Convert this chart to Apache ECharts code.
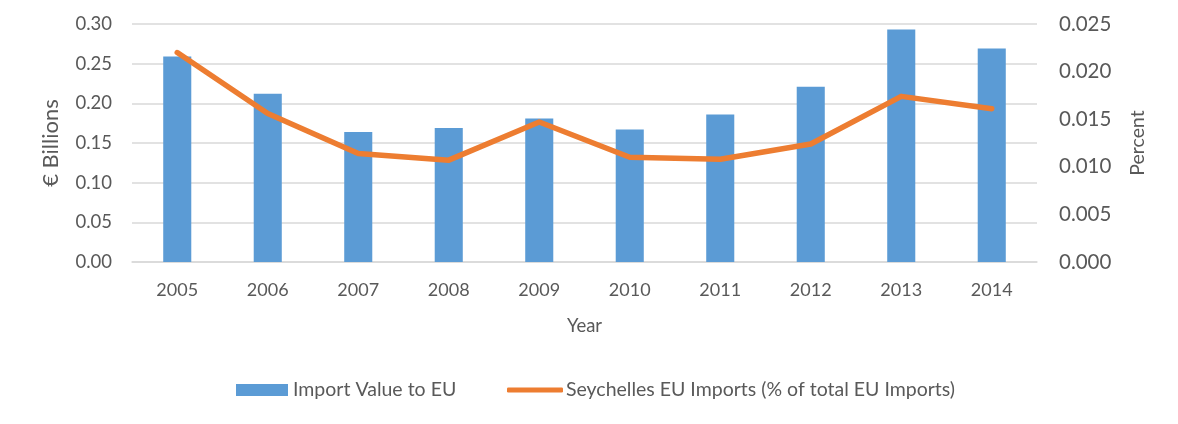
<!DOCTYPE html>
<html>
<head>
<meta charset="utf-8">
<script src="https://cdn.jsdelivr.net/npm/echarts@6/dist/echarts.min.js"></script>
<style>
  html, body { margin: 0; padding: 0; background: #ffffff; }
  #chart { width: 1178px; height: 424px; }
</style>
</head>
<body>
<div id="chart"></div>
<script>
// Seychelles imports to the EU, 2005-2014
const years = ['2005', '2006', '2007', '2008', '2009', '2010', '2011', '2012', '2013', '2014'];
// Import value to the EU, € billions
const importValue = [0.259, 0.212, 0.164, 0.169, 0.181, 0.167, 0.186, 0.221, 0.293, 0.269];
// Share of total EU imports, percent
const importShare = [0.0220, 0.0156, 0.0114, 0.0107, 0.0147, 0.0110, 0.0108, 0.0124, 0.0174, 0.0161];

const leftTicks = { min: 0, max: 0.30, interval: 0.05 };
const rightTicks = { min: 0, max: 0.025, interval: 0.005 };

const FONT = 'Lato';
const TEXT = '#595959';
const GRID = '#D9D9D9';
const BAR_COLOR = '#5B9BD5';
const LINE_COLOR = '#ED7D31';

const chart = echarts.init(document.getElementById('chart'), null, { renderer: 'canvas' });

chart.setOption({
  backgroundColor: '#ffffff',
  animation: false,
  textStyle: { fontFamily: FONT, color: TEXT },
  grid: { left: 132, right: 141, top: 24, bottom: 162, containLabel: false },
  legend: [
    {
      data: [{ name: 'Import Value to EU', icon: 'rect' }],
      left: 236, top: 380, padding: 0,
      itemWidth: 52, itemHeight: 12, itemGap: 5,
      textStyle: { fontFamily: FONT, fontSize: 19.5, color: TEXT, padding: [0, 0, 0, 0] }
    },
    {
      data: [{ name: 'Seychelles EU Imports (% of total EU Imports)', icon: 'roundRect',
               itemStyle: { color: LINE_COLOR } }],
      left: 507, top: 380, padding: 0,
      itemWidth: 56, itemHeight: 5, itemGap: 5,
      textStyle: { fontFamily: FONT, fontSize: 19.5, color: TEXT, padding: [0, 0, 0, -2] }
    }
  ],
  xAxis: {
    type: 'category',
    data: years,
    name: 'Year',
    nameLocation: 'middle',
    nameGap: 55,
    nameTextStyle: { fontFamily: FONT, fontSize: 18.5, color: TEXT },
    axisLine: { show: true, lineStyle: { color: GRID, width: 1.5 } },
    axisTick: { show: false },
    axisLabel: { fontFamily: FONT, fontSize: 18, color: TEXT, margin: 19 }
  },
  yAxis: [
    {
      type: 'value',
      min: leftTicks.min, max: leftTicks.max, interval: leftTicks.interval,
      name: '€ Billions',
      nameLocation: 'middle',
      nameRotate: 90,
      nameGap: 70,
      nameTextStyle: { fontFamily: FONT, fontSize: 22, color: TEXT },
      axisLine: { show: false },
      axisTick: { show: false },
      splitLine: { show: true, lineStyle: { color: GRID, width: 1.5 } },
      axisLabel: {
        fontFamily: FONT, fontSize: 18.5, color: TEXT, margin: 20,
        formatter: v => v.toFixed(2)
      }
    },
    {
      type: 'value',
      position: 'right',
      min: rightTicks.min, max: rightTicks.max, interval: rightTicks.interval,
      name: 'Percent',
      nameLocation: 'middle',
      nameRotate: 90,
      nameGap: 91,
      nameTextStyle: { fontFamily: FONT, fontSize: 19.5, color: TEXT },
      axisLine: { show: false },
      axisTick: { show: false },
      splitLine: { show: false },
      axisLabel: {
        fontFamily: FONT, fontSize: 20.5, color: TEXT, margin: 22,
        formatter: v => v.toFixed(3)
      }
    }
  ],
  series: [
    {
      name: 'Import Value to EU',
      type: 'bar',
      yAxisIndex: 0,
      data: importValue,
      barWidth: '31%',
      itemStyle: { color: BAR_COLOR }
    },
    {
      name: 'Seychelles EU Imports (% of total EU Imports)',
      type: 'line',
      yAxisIndex: 1,
      data: importShare,
      symbol: 'none',
      showSymbol: false,
      lineStyle: { color: LINE_COLOR, width: 5.5, cap: 'round', join: 'round' },
      itemStyle: { color: LINE_COLOR }
    }
  ]
});
</script>
</body>
</html>
